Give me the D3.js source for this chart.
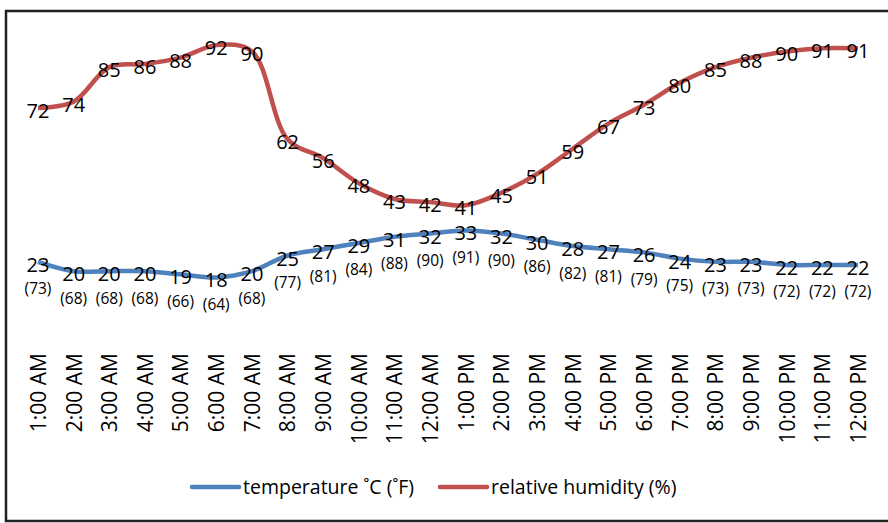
<!DOCTYPE html>
<html>
<head>
<meta charset="utf-8">
<title>temperature and humidity</title>
<script src="https://cdn.jsdelivr.net/npm/d3@7"></script>
<style>
    body{
        margin:0;
        background:#fff;
        font-family:"Open Sans",sans-serif;
    }
    .lbl{
        fill:#000;
    }
</style>
</head>
<body>
<div id="chart1"></div>
<script>

    var hours = ["1:00 AM","2:00 AM","3:00 AM","4:00 AM","5:00 AM","6:00 AM","7:00 AM","8:00 AM","9:00 AM","10:00 AM","11:00 AM","12:00 AM",
                 "1:00 PM","2:00 PM","3:00 PM","4:00 PM","5:00 PM","6:00 PM","7:00 PM","8:00 PM","9:00 PM","10:00 PM","11:00 PM","12:00 PM"]
    var tempC = [23,20,20,20,19,18,20,25,27,29,31,32,33,32,30,28,27,26,24,23,23,22,22,22]
    var tempF = [73,68,68,68,66,64,68,77,81,84,88,90,91,90,86,82,81,79,75,73,73,72,72,72]
    var humidity = [72,74,85,86,88,92,90,62,56,48,43,42,41,45,51,59,67,73,80,85,88,90,91,91]
    var legendNames = ["temperature \u02DAC (\u02DAF)","relative humidity (%)"]

    var blue = "#4f81bd"
    var red = "#c0504d"

    var width = 888
    var height = 523
    var svg = d3.select("#chart1").append("svg").attr("width",width).attr("height",height)

    // frame (right edge runs off the picture)
    svg.append("path")
        .attr("d","M900,11 L6,11 L6,521 L900,521")
        .attr("fill","none")
        .attr("stroke","#231f20")
        .attr("stroke-width",2.5)

    var x = d3.scalePoint()
        .domain(hours)
        .range([38, 858])

    var y = d3.scaleLinear()
        .domain([0, 100])
        .range([334, 20])

    var line = d3.line()
        .x(function(d,i){ return x(hours[i]) })
        .y(function(d){ return y(d) })
        .curve(d3.curveCatmullRom.alpha(0.5))

    svg.append("path")
        .datum(humidity)
        .attr("d",line)
        .attr("fill","none")
        .attr("stroke",red)
        .attr("stroke-width",4.5)
        .attr("stroke-linejoin","round")

    svg.append("path")
        .datum(tempC)
        .attr("d",line)
        .attr("fill","none")
        .attr("stroke",blue)
        .attr("stroke-width",4.5)
        .attr("stroke-linejoin","round")

    // humidity labels
    svg.selectAll(".hum")
        .data(humidity)
        .enter().append("text")
        .attr("class","lbl hum")
        .attr("x",function(d,i){ return x(hours[i]) })
        .attr("y",function(d){ return y(d) + 3 })
        .attr("dy","0.35em")
        .attr("text-anchor","middle")
        .style("font-size","20px")
        .text(function(d){ return d })

    // temperature labels
    svg.selectAll(".tc")
        .data(tempC)
        .enter().append("text")
        .attr("class","lbl tc")
        .attr("x",function(d,i){ return x(hours[i]) })
        .attr("y",function(d){ return y(d) + 3 })
        .attr("dy","0.35em")
        .attr("text-anchor","middle")
        .style("font-size","20px")
        .text(function(d){ return d })

    svg.selectAll(".tf")
        .data(tempF)
        .enter().append("text")
        .attr("class","lbl tf")
        .attr("x",function(d,i){ return x(hours[i]) })
        .attr("y",function(d,i){ return y(tempC[i]) + 27 })
        .attr("dy","0.35em")
        .attr("text-anchor","middle")
        .style("font-size","15.5px")
        .text(function(d){ return "(" + d + ")" })

    // x axis labels, no line / ticks
    var xAxis = d3.axisBottom(x).tickSize(0).tickPadding(0)
    var gx = svg.append("g")
        .attr("transform","translate(0,353)")
        .call(xAxis)
    gx.select(".domain").remove()
    gx.selectAll("text")
        .attr("transform","rotate(-90)")
        .attr("x",0)
        .attr("y",0)
        .attr("dy","0.35em")
        .attr("text-anchor","end")
        .style("font-family","'Open Sans',sans-serif")
        .style("font-size","21px")
        .attr("fill","#000")

    // legend
    var legend = svg.append("g")
    var legX = [192, 440]
    legend.selectAll(".legline")
        .data(legendNames)
        .enter().append("line")
        .attr("x1",function(d,i){ return legX[i] })
        .attr("x2",function(d,i){ return legX[i] + 47 })
        .attr("y1",487).attr("y2",487)
        .attr("stroke",function(d,i){ return i == 0 ? blue : red })
        .attr("stroke-width",4.5)
        .attr("stroke-linecap","round")
    legend.selectAll(".legtext")
        .data(legendNames)
        .enter().append("text")
        .attr("x",function(d,i){ return legX[i] + 51 })
        .attr("y",487)
        .attr("dy","0.35em")
        .style("font-size","19.5px")
        .text(function(d){ return d })

</script>
</body>
</html>
